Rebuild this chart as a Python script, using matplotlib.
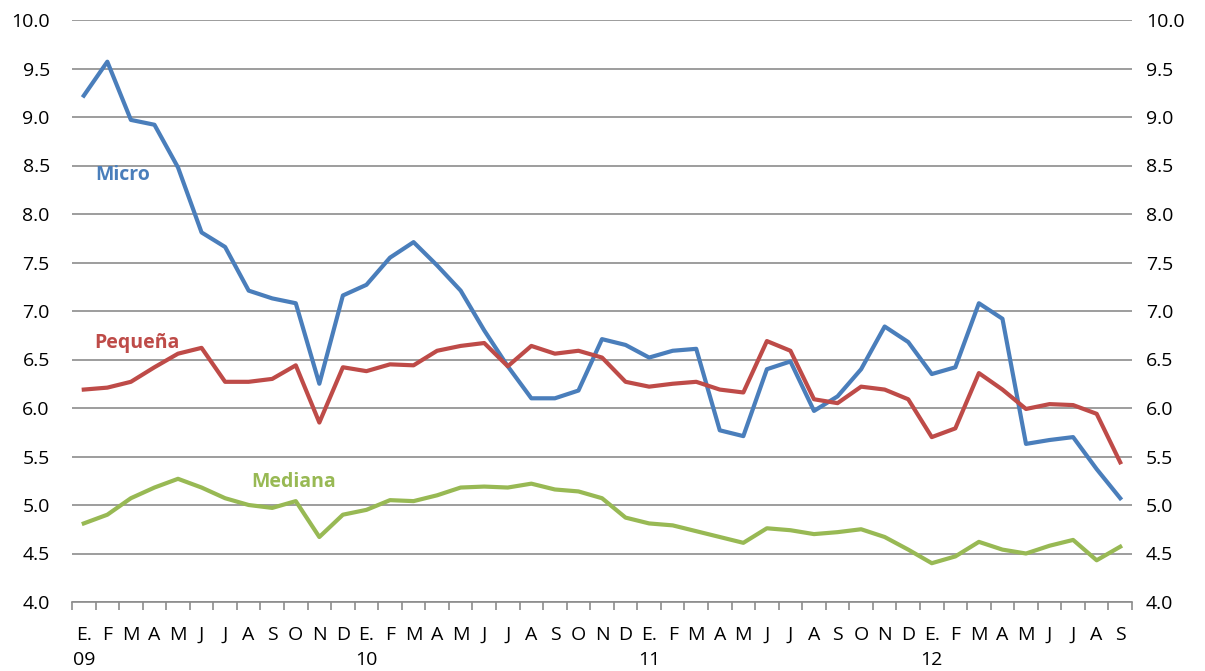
import matplotlib as mpl
import matplotlib.pyplot as plt
from matplotlib.ticker import MultipleLocator, FixedLocator
import matplotlib.transforms as mtrans

mpl.rcParams['font.family'] = ['Open Sans', 'DejaVu Sans']

months = ['E.', 'F', 'M', 'A', 'M', 'J', 'J', 'A', 'S', 'O', 'N', 'D'] * 3 + \
         ['E.', 'F', 'M', 'A', 'M', 'J', 'J', 'A', 'S']
years = ['09', '10', '11', '12']

micro = [9.22, 9.57, 8.97, 8.92, 8.48, 7.81, 7.66, 7.21, 7.13, 7.08, 6.25, 7.16,
         7.27, 7.55, 7.71, 7.47, 7.21, 6.80, 6.43, 6.10, 6.10, 6.18, 6.71, 6.65,
         6.52, 6.59, 6.61, 5.77, 5.71, 6.40, 6.48, 5.97, 6.12, 6.40, 6.84, 6.68,
         6.35, 6.42, 7.08, 6.92, 5.63, 5.67, 5.70, 5.37, 5.07]
pequena = [6.19, 6.21, 6.27, 6.42, 6.56, 6.62, 6.27, 6.27, 6.30, 6.44, 5.85, 6.42,
           6.38, 6.45, 6.44, 6.59, 6.64, 6.67, 6.43, 6.64, 6.56, 6.59, 6.52, 6.27,
           6.22, 6.25, 6.27, 6.19, 6.16, 6.69, 6.59, 6.09, 6.05, 6.22, 6.19, 6.09,
           5.70, 5.79, 6.36, 6.19, 5.99, 6.04, 6.03, 5.94, 5.44]
mediana = [4.81, 4.90, 5.07, 5.18, 5.27, 5.18, 5.07, 5.00, 4.97, 5.04, 4.67, 4.90,
           4.95, 5.05, 5.04, 5.10, 5.18, 5.19, 5.18, 5.22, 5.16, 5.14, 5.07, 4.87,
           4.81, 4.79, 4.73, 4.67, 4.61, 4.76, 4.74, 4.70, 4.72, 4.75, 4.67, 4.54,
           4.40, 4.47, 4.62, 4.54, 4.50, 4.58, 4.64, 4.43, 4.57]

BLUE = '#4A7EBB'
RED = '#BE4B48'
GREEN = '#98B954'
GRID = '#8C8C8C'

fig = plt.figure(figsize=(12.05, 6.71), dpi=100)
ax = fig.add_axes([72 / 1205, 1 - 602 / 671, (1132 - 72) / 1205, (602 - 20) / 671])

x = list(range(len(months)))
ax.plot(x, micro, color=BLUE, lw=3)
ax.plot(x, pequena, color=RED, lw=3)
ax.plot(x, mediana, color=GREEN, lw=3)

ax.set_xlim(-0.5, len(months) - 0.5)
ax.set_ylim(4, 10)
ax.yaxis.set_major_locator(MultipleLocator(0.5))
ax.yaxis.set_major_formatter(mpl.ticker.FormatStrFormatter('%.1f'))
ax.grid(axis='y', color=GRID, lw=1.2)
ax.set_axisbelow(True)

for s in ['top', 'left', 'right']:
    ax.spines[s].set_visible(False)
ax.spines['bottom'].set_color(GRID)
ax.spines['bottom'].set_linewidth(1.2)

ax.set_xticks(x)
ax.set_xticklabels(months)
ax.xaxis.set_minor_locator(FixedLocator([i - 0.5 for i in range(len(months) + 1)]))
ax.tick_params(axis='x', which='major', length=0, pad=17, labelsize=14)
ax.tick_params(axis='x', which='minor', length=6, color=GRID, width=1.2)
ax.tick_params(axis='y', length=0, labelsize=14, pad=16)

# right-hand copy of the value axis
ax2 = ax.twinx()
ax2.set_ylim(ax.get_ylim())
ax2.yaxis.set_major_locator(MultipleLocator(0.5))
ax2.yaxis.set_major_formatter(mpl.ticker.FormatStrFormatter('%.1f'))
ax2.tick_params(axis='y', length=0, labelsize=14, pad=10)
for s in ax2.spines.values():
    s.set_visible(False)

trans = mtrans.blended_transform_factory(ax.transData, ax.transAxes)
for k, yr in enumerate(years):
    ax.text(12 * k, -(660 - 602) / 582, yr, transform=trans, ha='center',
            va='center', fontsize=14)

ax.text(0.5, 8.4, 'Micro', color=BLUE, fontsize=14, fontweight='bold', va='center')
ax.text(0.45, 6.67, 'Pequeña', color=RED, fontsize=14, fontweight='bold', va='center')
ax.text(7.1, 5.24, 'Mediana', color=GREEN, fontsize=14, fontweight='bold', va='center')

fig.savefig('out.png', dpi=100)
